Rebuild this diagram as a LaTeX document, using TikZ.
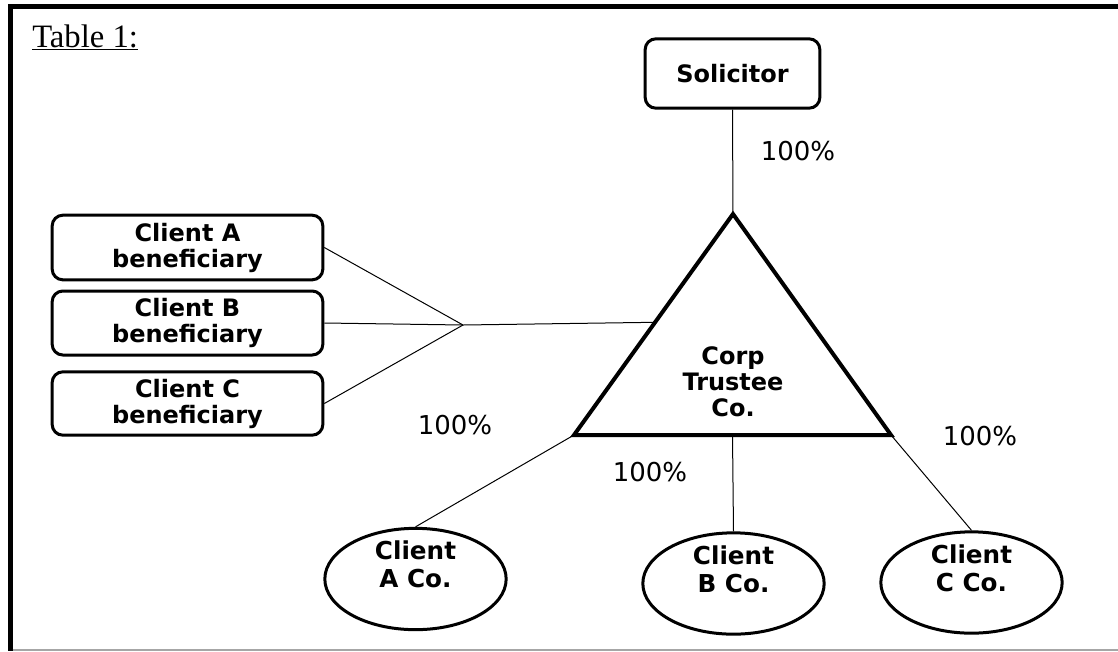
\documentclass[tikz,border=0pt]{standalone}
\usepackage{fontspec}
\setmainfont{Liberation Serif}
\newfontfamily\boxfont{DejaVu Sans}
\usetikzlibrary{shapes.geometric,positioning,calc}

\begin{document}
\begin{tikzpicture}[
    x=0.75pt, y=-0.75pt,
    frame/.style={line width=3.75pt, black},
    ownbox/.style={draw, line width=2.25pt, rounded corners=8pt, align=center, font=\boxfont\bfseries\fontsize{18}{19.5}\selectfont},
    company/.style={draw, ellipse, line width=2.25pt, minimum width=136pt, minimum height=76pt},
    cotext/.style={align=center, font=\boxfont\bfseries\fontsize{18.5}{21}\selectfont},
    link/.style={line width=0.75pt},
    pct/.style={font=\boxfont\fontsize{19.5}{21}\selectfont}
]
\useasboundingbox (0,0) rectangle (1118,651);

% Frame
\draw[frame] (8,6.5) -- (1118,6.5);
\draw[frame] (10.5,4.6) -- (10.5,651);
\draw[gray!70, line width=1.2pt] (12.5,650) -- (1118,650);
\node[anchor=base west, inner sep=0pt, font=\fontsize{24.5}{28}\selectfont] (title) at (32,47) {\underline{Table 1:}};

% Solicitor
\node[ownbox, minimum width=131pt, minimum height=52pt] (sol) at (732.5,73.5) {Solicitor};
\node[pct] (pSol) at (798,151) {100\%};

% Corp trustee triangle
\coordinate (apex) at (733,214);
\coordinate (bl) at (574,435);
\coordinate (br) at (891,435);
\draw[line width=3pt] (apex) -- (bl) -- (br) -- cycle;
\node[ownbox, draw=none] (trustee) at (733,382) {Corp\\Trustee\\Co.};
\draw[link] (sol.south) -- (apex);

% Beneficiaries
\node[ownbox, minimum width=203pt, minimum height=48.5pt] (benA) at (187.5,247.5) {Client A\\beneficiary};
\node[ownbox, minimum width=203pt, minimum height=48pt] (benB) at (187.5,323) {Client B\\beneficiary};
\node[ownbox, minimum width=203pt, minimum height=47.5pt] (benC) at (187.5,403.5) {Client C\\beneficiary};
\coordinate (join) at (463,325);
\coordinate (side) at ($(apex)!0.49!(bl)$);
\draw[link] (benA.east) -- (join);
\draw[link] (benB.east) -- (join);
\draw[link] (benC.east) -- (join);
\draw[link] (join) -- (side);

% Client companies
\node[company] (coA) at (415.5,579) {};
\node[company] (coB) at (733.5,583.5) {};
\node[company] (coC) at (971.5,582.5) {};
\node[cotext] (txA) at ([yshift=11pt]coA.center) {Client\\A Co.};
\node[cotext] (txB) at ([yshift=11pt]coB.center) {Client\\B Co.};
\node[cotext] (txC) at ([yshift=11pt]coC.center) {Client\\C Co.};
\draw[link] (bl) -- (coA.north);
\draw[link] ($(bl)!0.5!(br)$) -- (coB.north);
\draw[link] (br) -- (coC.north);
\node[pct] (pA) at (455,425) {100\%};
\node[pct] (pB) at (650,472) {100\%};
\node[pct] (pC) at (980,436) {100\%};

\end{tikzpicture}
\end{document}
